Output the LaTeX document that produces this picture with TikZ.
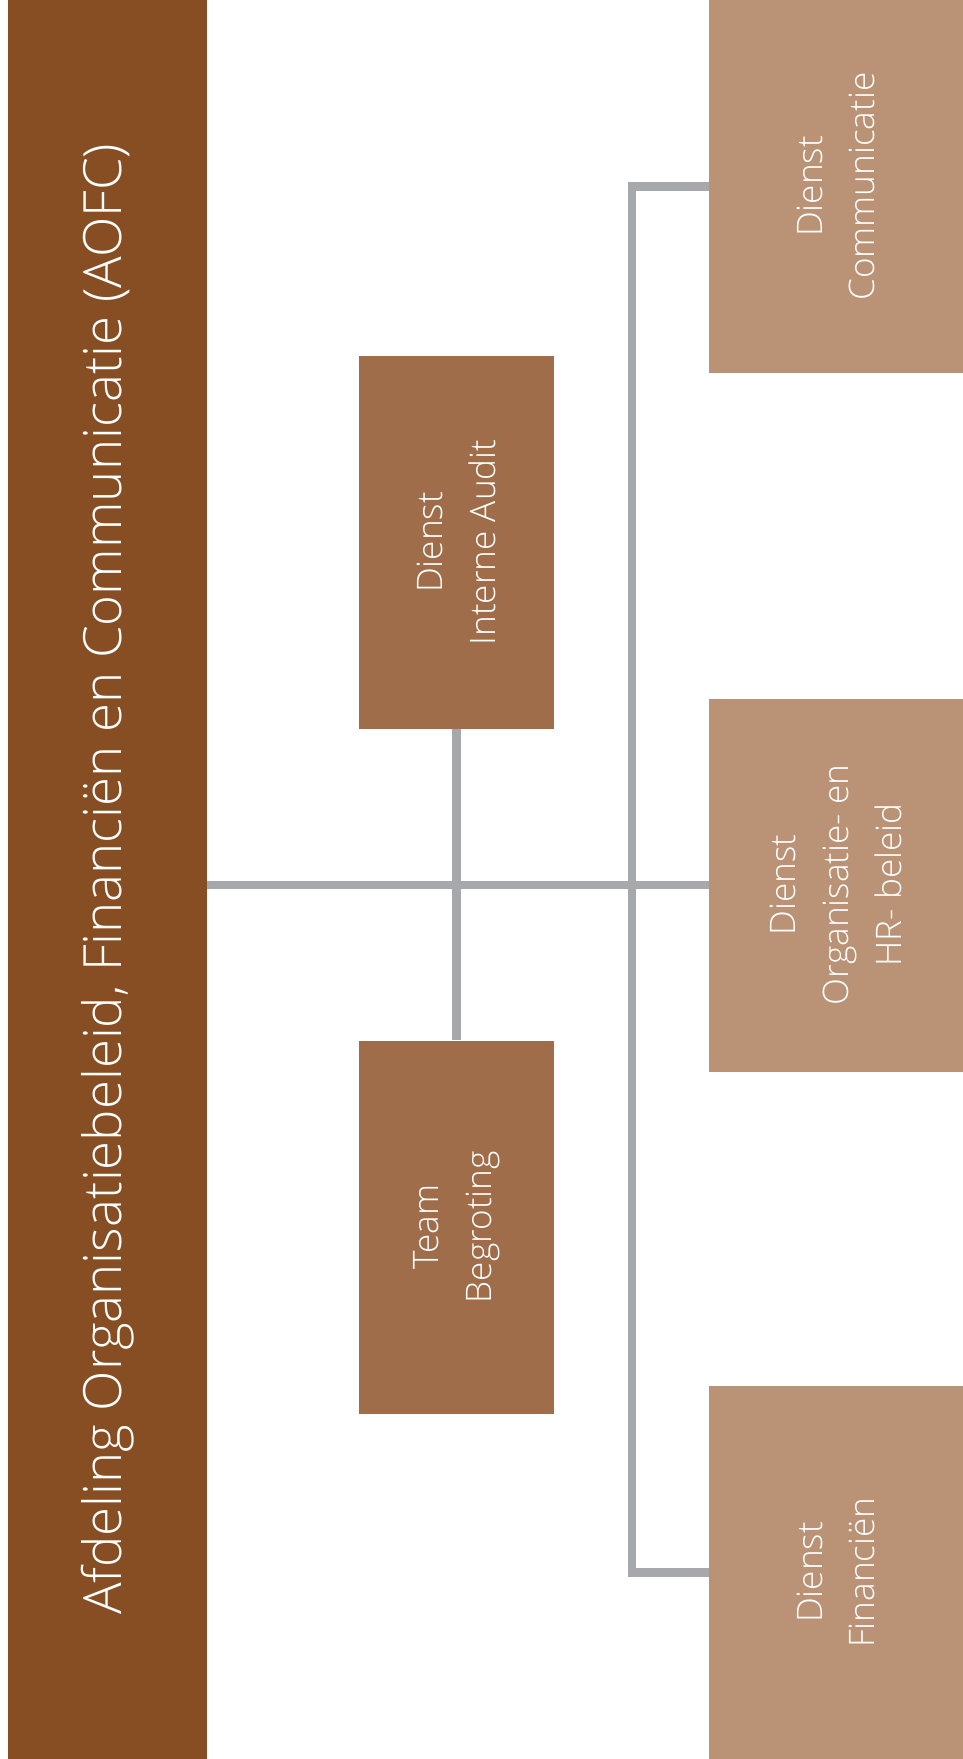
\documentclass[tikz,border=0pt]{standalone}
\usepackage{fontspec}
\IfFontExistsTF{Open Sans Light}{\setmainfont{Open Sans Light}}{\setmainfont{Open Sans}}
\usetikzlibrary{positioning}
\definecolor{afdbrown}{HTML}{874D23}
\definecolor{teambrown}{HTML}{A06D4A}
\definecolor{dienstbrown}{HTML}{BA9275}
\definecolor{linkgray}{HTML}{A7A8AC}
\tikzset{
  unit/.style={rectangle,rotate=90,inner sep=0pt,align=center,text=white,
    font=\fontsize{20}{30}\selectfont},
  teambox/.style={unit,fill=teambrown,minimum width=7.46cm,minimum height=3.9cm},
  dienstbox/.style={unit,fill=dienstbrown,minimum width=7.46cm,minimum height=5.08cm},
  link/.style={draw=linkgray,line width=5.1pt,line join=miter}
}
\begin{document}
\begin{tikzpicture}
  \useasboundingbox (0,0) rectangle (19.26,-35.18);
  % afdeling
  \node[unit,fill=afdbrown,minimum width=35.18cm,minimum height=3.98cm,
    font=\fontsize{30}{34}\selectfont] (afd) at (2.15,-17.59)
    {Afdeling Organisatiebeleid, Financiën en Communicatie (AOFC)};
  % staf
  \node[teambox] (audit) at (9.13,-10.85) {Dienst\\Interne Audit};
  \node[teambox] (begr) at (9.13,-24.54) {Team\\Begroting};
  % diensten
  \node[dienstbox] (comm) at (16.72,-3.73) {Dienst\\Communicatie};
  \node[dienstbox] (org) at (16.72,-17.70) {Dienst\\Organisatie- en\\HR- beleid};
  \node[dienstbox] (fin) at (16.72,-31.45) {Dienst\\Financiën};
  \coordinate (spine) at (12.64,0);
  % lijnen
  \draw[link] (afd.south |- org.north) -- (org.north);
  \draw[link] (audit.west) -- (begr.east);
  \draw[link] (comm.north) -- (comm.north -| spine) -- (fin.north -| spine) -- (fin.north);
\end{tikzpicture}
\end{document}
